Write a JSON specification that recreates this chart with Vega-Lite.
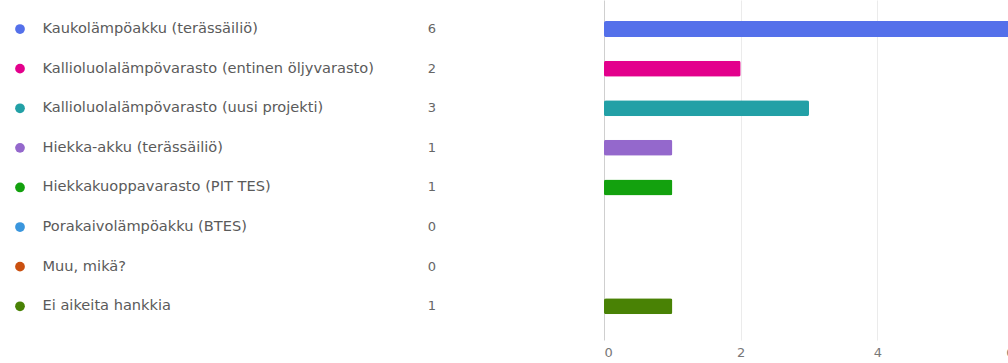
{
  "$schema": "https://vega.github.io/schema/vega-lite/v6.json",
  "padding": 0,
  "background": "white",
  "spacing": 2,
  "config": {"view": {"stroke": null}, "font": "DejaVu Sans"},
  "data": {"values": [
    {"label": "Kaukolämpöakku (terässäiliö)", "count": 6},
    {"label": "Kallioluolalämpövarasto (entinen öljyvarasto)", "count": 2},
    {"label": "Kallioluolalämpövarasto (uusi projekti)", "count": 3},
    {"label": "Hiekka-akku (terässäiliö)", "count": 1},
    {"label": "Hiekkakuoppavarasto (PIT TES)", "count": 1},
    {"label": "Porakaivolämpöakku (BTES)", "count": 0},
    {"label": "Muu, mikä?", "count": 0},
    {"label": "Ei aikeita hankkia", "count": 1}
  ]},
  "hconcat": [
    {
      "width": 40,
      "height": 340,
      "mark": {"type": "circle", "size": 95, "opacity": 1},
      "encoding": {
        "y": {"field": "label", "type": "nominal", "sort": null, "axis": null,
              "scale": {"type": "band", "paddingInner": 0.596, "paddingOuter": 0.591, "align": 0.45}},
        "color": {"field": "label", "type": "nominal", "sort": null, "legend": null,
                  "scale": {"domain": ["Kaukolämpöakku (terässäiliö)", "Kallioluolalämpövarasto (entinen öljyvarasto)", "Kallioluolalämpövarasto (uusi projekti)", "Hiekka-akku (terässäiliö)", "Hiekkakuoppavarasto (PIT TES)", "Porakaivolämpöakku (BTES)", "Muu, mikä?", "Ei aikeita hankkia"],
                            "range": ["#5470ea", "#e3008c", "#22a0a6", "#9468cc", "#13a10e", "#3a96dd", "#ca5010", "#498205"]}}
      }
    },
    {
      "width": 340,
      "height": 340,
      "mark": {"type": "text", "fontSize": 13, "color": "#666666", "font": "DejaVu Sans"},
      "encoding": {
        "y": {"field": "label", "type": "nominal", "sort": null,
              "scale": {"type": "band", "paddingInner": 0.596, "paddingOuter": 0.591, "align": 0.45},
              "axis": {"title": null, "domain": false, "ticks": false, "labelAlign": "left", "labelPadding": 220,
                       "labelFontSize": 14.6, "labelColor": "#5a5a5a", "labelFont": "DejaVu Sans", "labelLimit": 400}},
        "text": {"field": "count", "type": "quantitative"}
      }
    },
    {
      "width": 410,
      "height": 340,
      "mark": {"type": "bar", "cornerRadius": 2},
      "encoding": {
        "y": {"field": "label", "type": "nominal", "sort": null, "axis": null,
              "scale": {"type": "band", "paddingInner": 0.596, "paddingOuter": 0.591, "align": 0.45}},
        "x": {"field": "count", "type": "quantitative",
              "scale": {"domain": [0, 6], "nice": false},
              "axis": {"title": null, "domain": false, "ticks": false, "values": [0, 2, 4, 6],
                       "grid": true, "gridColor": {"condition": {"test": "datum.value === 0", "value": "#cfcfcf"}, "value": "#ebebeb"},
                       "labelFontSize": 13, "labelColor": "#777777", "labelPadding": 6, "labelFont": "DejaVu Sans"}},
        "color": {"field": "label", "type": "nominal", "sort": null, "legend": null}
      }
    }
  ]
}
